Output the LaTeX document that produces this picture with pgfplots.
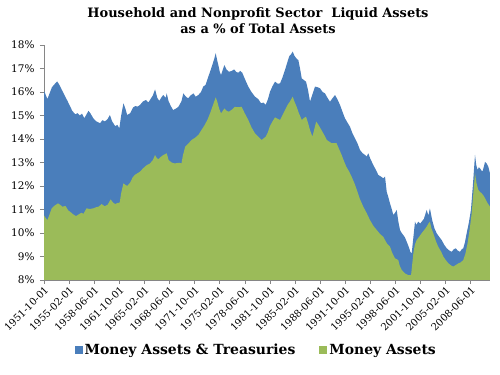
\documentclass[border=0pt]{standalone}
\usepackage{fontspec}
\setmainfont{DejaVu Serif}
\usepackage{pgfplots}
\pgfplotsset{compat=1.18}
\definecolor{xblue}{RGB}{74,126,187}
\definecolor{xgreen}{RGB}{155,187,89}
\definecolor{axgray}{RGB}{134,134,134}
\begin{document}
\begin{tikzpicture}
\path[use as bounding box] (0,0) rectangle (500bp,375bp);
\node[font=\bfseries\fontsize{13}{16}\selectfont, align=center] at (258bp,354bp) {Household and Nonprofit Sector\ \ Liquid Assets\\as a \% of Total Assets};
\begin{axis}[
  at={(44bp,95bp)}, anchor=south west, scale only axis,
  width=446bp, height=235bp,
  xmin=1951.75, xmax=2010.98, ymin=8, ymax=18,
  axis lines*=left,
  axis line style={axgray},
  tick style={axgray, line width=0.6pt},
  tick align=outside, major tick length=4bp,
  ytick={8,9,10,11,12,13,14,15,16,17,18},
  yticklabels={8\%,9\%,10\%,11\%,12\%,13\%,14\%,15\%,16\%,17\%,18\%},
  yticklabel style={font=\fontsize{10.5}{12}\selectfont, xshift=-2bp},
  xtick={1951.75,1955.08333,1958.41667,1961.75,1965.08333,1968.41667,1971.75,1975.08333,1978.41667,1981.75,1985.08333,1988.41667,1991.75,1995.08333,1998.41667,2001.75,2005.08333,2008.41667},
  xticklabels={1951-10-01,1955-02-01,1958-06-01,1961-10-01,1965-02-01,1968-06-01,1971-10-01,1975-02-01,1978-06-01,1981-10-01,1985-02-01,1988-06-01,1991-10-01,1995-02-01,1998-06-01,2001-10-01,2005-02-01,2008-06-01},
  xticklabel style={rotate=45, anchor=north east, font=\fontsize{10}{12}\selectfont, inner sep=1bp},
  legend style={at={(0.476,-0.298)}, anchor=center, draw=none, font=\bfseries\fontsize{14}{16}\selectfont, legend columns=2, /tikz/every even column/.append style={column sep=22bp}},
  legend image code/.code={\fill[#1] (0bp,-4bp) rectangle (8bp,4bp);},
]
\addplot[fill=xblue, draw=none] coordinates {
(1951.75,16.05)(1951.95,15.9)(1952.2,15.7)(1952.5,15.95)(1952.8,16.2)(1953.2,16.35)(1953.5,16.45)(1953.8,16.3)(1954.1,16.1)(1954.5,15.85)(1954.9,15.6)(1955.2,15.4)(1955.5,15.2)(1955.9,15.05)(1956.2,15.1)(1956.5,15.0)(1956.8,15.08)(1957.1,14.88)(1957.4,15.05)(1957.65,15.2)(1957.9,15.1)(1958.3,14.88)(1958.7,14.75)(1959.2,14.67)(1959.5,14.8)(1959.85,14.75)(1960.2,14.85)(1960.5,15.02)(1960.8,14.75)(1961.2,14.55)(1961.5,14.6)(1961.75,14.45)(1962.0,15.0)(1962.3,15.52)(1962.55,15.3)(1962.8,15.02)(1963.2,15.1)(1963.6,15.35)(1963.9,15.4)(1964.2,15.38)(1964.5,15.45)(1964.9,15.6)(1965.3,15.66)(1965.6,15.55)(1965.9,15.7)(1966.2,15.85)(1966.5,16.11)(1966.8,15.75)(1967.06,15.62)(1967.4,15.8)(1967.6,15.87)(1967.9,15.75)(1968.05,15.94)(1968.3,15.6)(1968.6,15.4)(1968.9,15.23)(1969.3,15.3)(1969.6,15.37)(1970.0,15.6)(1970.25,15.94)(1970.6,15.8)(1970.9,15.73)(1971.2,15.85)(1971.6,15.94)(1971.9,15.8)(1972.24,15.87)(1972.6,16.0)(1972.9,16.23)(1973.2,16.3)(1973.57,16.65)(1973.9,16.95)(1974.1,17.15)(1974.35,17.4)(1974.55,17.65)(1974.75,17.35)(1974.9,17.15)(1975.1,16.85)(1975.26,16.72)(1975.5,16.95)(1975.7,17.15)(1976.0,16.95)(1976.32,16.86)(1976.7,16.9)(1977.0,16.96)(1977.3,16.85)(1977.55,16.82)(1977.8,16.9)(1978.08,16.82)(1978.5,16.5)(1978.88,16.23)(1979.3,16.0)(1979.77,15.8)(1980.2,15.7)(1980.57,15.52)(1980.9,15.55)(1981.19,15.45)(1981.5,15.7)(1981.76,16.01)(1982.1,16.25)(1982.43,16.44)(1982.8,16.35)(1983.1,16.37)(1983.4,16.6)(1983.76,16.94)(1984.1,17.3)(1984.33,17.53)(1984.55,17.6)(1984.78,17.72)(1985.0,17.55)(1985.1,17.5)(1985.35,17.4)(1985.53,17.36)(1985.75,17.0)(1985.98,16.58)(1986.3,16.5)(1986.55,16.44)(1986.8,16.1)(1987.08,15.59)(1987.4,15.9)(1987.74,16.23)(1988.1,16.2)(1988.4,16.16)(1988.75,16.0)(1989.07,15.94)(1989.4,15.75)(1989.73,15.59)(1990.1,15.75)(1990.4,15.87)(1990.7,15.7)(1991.06,15.45)(1991.4,15.15)(1991.72,14.88)(1992.05,14.7)(1992.39,14.52)(1992.7,14.25)(1993.05,14.03)(1993.4,13.8)(1993.72,13.53)(1994.05,13.4)(1994.38,13.32)(1994.6,13.25)(1994.82,13.39)(1995.1,13.15)(1995.49,12.89)(1995.8,12.7)(1996.15,12.47)(1996.5,12.4)(1996.81,12.33)(1997.04,12.4)(1997.26,11.76)(1997.5,11.5)(1997.7,11.26)(1997.95,11.0)(1998.14,10.77)(1998.35,10.85)(1998.59,10.98)(1998.8,10.5)(1999.03,10.13)(1999.25,10.0)(1999.47,9.91)(1999.7,9.8)(1999.92,9.63)(2000.2,9.4)(2000.4,9.2)(2000.58,9.13)(2000.8,9.8)(2001.02,10.48)(2001.2,10.35)(2001.46,10.48)(2001.7,10.4)(2001.9,10.48)(2002.2,10.6)(2002.57,10.98)(2002.8,10.75)(2003.0,11.05)(2003.15,10.8)(2003.3,10.55)(2003.6,10.2)(2003.9,9.99)(2004.2,9.85)(2004.56,9.7)(2004.9,9.5)(2005.23,9.35)(2005.6,9.25)(2005.89,9.2)(2006.15,9.3)(2006.42,9.35)(2006.7,9.25)(2007.0,9.2)(2007.2,9.3)(2007.43,9.35)(2007.65,9.6)(2007.88,9.99)(2008.15,10.4)(2008.45,10.98)(2008.7,12.0)(2008.99,13.32)(2009.15,12.9)(2009.34,12.68)(2009.5,12.8)(2009.65,12.75)(2009.96,12.61)(2010.15,12.8)(2010.32,13.03)(2010.55,12.95)(2010.76,12.82)(2010.98,12.54)
} \closedcycle;
\addlegendentry{Money Assets \& Treasuries}
\addplot[fill=xgreen, draw=none] coordinates {
(1951.75,10.75)(1951.95,10.65)(1952.2,10.55)(1952.5,10.8)(1952.77,11.05)(1953.1,11.15)(1953.6,11.26)(1953.9,11.2)(1954.2,11.12)(1954.6,11.15)(1955.0,10.95)(1955.2,10.91)(1955.6,10.8)(1956.0,10.72)(1956.3,10.78)(1956.7,10.86)(1957.0,10.82)(1957.4,11.05)(1957.8,11.02)(1958.3,11.05)(1958.7,11.1)(1959.0,11.12)(1959.4,11.23)(1959.8,11.14)(1960.2,11.2)(1960.6,11.43)(1960.9,11.3)(1961.2,11.23)(1961.5,11.28)(1961.8,11.29)(1962.0,11.7)(1962.3,12.11)(1962.55,12.05)(1962.8,12.0)(1963.2,12.15)(1963.5,12.35)(1963.8,12.47)(1964.2,12.55)(1964.5,12.61)(1964.9,12.75)(1965.4,12.89)(1965.8,12.95)(1966.2,13.1)(1966.5,13.32)(1966.7,13.2)(1966.93,13.14)(1967.3,13.25)(1967.6,13.32)(1968.05,13.39)(1968.3,13.1)(1968.7,13.0)(1969.1,12.96)(1969.7,12.99)(1970.0,12.96)(1970.2,13.3)(1970.5,13.67)(1970.9,13.8)(1971.35,13.96)(1971.8,14.05)(1972.24,14.17)(1972.7,14.4)(1973.1,14.6)(1973.5,14.85)(1973.8,15.09)(1974.2,15.45)(1974.55,15.77)(1974.75,15.6)(1975.0,15.3)(1975.26,15.09)(1975.5,15.2)(1975.7,15.3)(1976.0,15.2)(1976.3,15.16)(1976.7,15.25)(1977.1,15.37)(1977.5,15.35)(1978.0,15.37)(1978.4,15.1)(1978.88,14.81)(1979.3,14.5)(1979.77,14.24)(1980.2,14.1)(1980.66,13.96)(1981.2,14.1)(1981.5,14.3)(1981.76,14.55)(1982.1,14.75)(1982.43,14.92)(1983.1,14.81)(1983.4,15.0)(1983.76,15.23)(1984.1,15.45)(1984.4,15.59)(1984.78,15.8)(1985.0,15.6)(1985.3,15.37)(1985.6,15.1)(1985.98,14.81)(1986.3,14.9)(1986.55,14.95)(1986.8,14.7)(1987.08,14.38)(1987.4,14.1)(1987.9,14.74)(1988.2,14.6)(1988.6,14.38)(1989.0,14.15)(1989.3,13.96)(1989.95,13.82)(1990.6,13.82)(1990.9,13.6)(1991.28,13.32)(1991.6,13.05)(1991.9,12.82)(1992.3,12.6)(1992.6,12.4)(1993.0,12.1)(1993.3,11.83)(1993.7,11.45)(1994.15,11.12)(1994.6,10.85)(1995.04,10.55)(1995.5,10.3)(1995.93,10.13)(1996.4,9.95)(1996.81,9.84)(1997.04,9.7)(1997.3,9.55)(1997.7,9.42)(1998.0,9.15)(1998.37,8.92)(1998.8,8.85)(1999.0,8.6)(1999.25,8.43)(1999.7,8.28)(2000.14,8.21)(2000.5,8.21)(2000.8,9.13)(2001.0,9.5)(2001.24,9.7)(2001.6,9.85)(2001.9,9.99)(2002.3,10.15)(2002.57,10.27)(2002.8,10.4)(2003.0,10.48)(2003.2,10.2)(2003.45,9.99)(2003.8,9.65)(2004.1,9.42)(2004.5,9.2)(2004.8,8.99)(2005.1,8.85)(2005.45,8.71)(2005.8,8.62)(2006.1,8.57)(2006.5,8.65)(2006.8,8.71)(2007.1,8.75)(2007.43,8.85)(2007.7,9.1)(2008.0,9.56)(2008.3,10.2)(2008.55,10.84)(2008.8,11.8)(2008.99,12.54)(2009.2,12.1)(2009.43,11.83)(2009.65,11.75)(2009.87,11.69)(2010.1,11.6)(2010.32,11.48)(2010.6,11.3)(2010.98,11.12)
} \closedcycle;
\addlegendentry{Money Assets}
\end{axis}
\end{tikzpicture}
\end{document}
